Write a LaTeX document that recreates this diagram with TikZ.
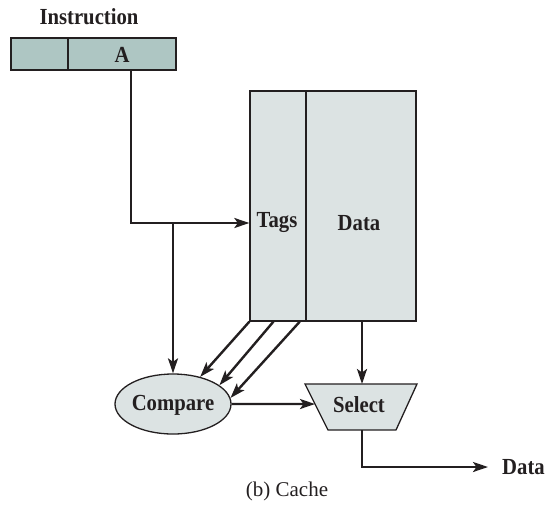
\documentclass[tikz,border=0pt]{standalone}
\usepackage{fontspec}
\setmainfont{Liberation Serif}
\newfontfamily\lblfont[FakeStretch=0.9]{Liberation Serif}
\usetikzlibrary{arrows.meta,shapes.geometric,calc}
\definecolor{ink}{HTML}{231F20}
\definecolor{instfill}{HTML}{AEC6C3}
\definecolor{boxfill}{HTML}{DCE3E3}
\tikzset{
  lbl/.style={font=\lblfont\fontsize{23}{26}\selectfont\bfseries, text=ink, inner sep=0pt},
  cellbox/.style={draw=ink, line width=1.3pt, fill=instfill, inner sep=0pt},
  membox/.style={draw=ink, line width=1.3pt, fill=boxfill, inner sep=0pt},
  wire/.style={draw=ink, line width=2.4pt, -{Stealth[length=15pt,width=10pt,inset=3.5pt]}},
}
\begin{document}
\begin{tikzpicture}[x=1pt,y=-1pt]
\useasboundingbox (0,0) rectangle (545,504);
% instruction
\node[lbl] (instr) at (89,17) {Instruction};
\node[cellbox, minimum width=57pt, minimum height=32pt] (cellL) at (39.5,54) {};
\node[cellbox, minimum width=108pt, minimum height=32pt] (cellA) at (122,54) {};
\node[lbl] (A) at (122,55) {A};
% cache memory
\node[membox, minimum width=56pt, minimum height=230pt] (tagbox) at (278,206) {};
\node[membox, minimum width=110pt, minimum height=230pt] (datbox) at (361,206) {};
\node[lbl] (tags) at (277,223) {Tags};
\node[lbl] (data) at (359,223) {Data};
% compare
\node[ellipse, draw=ink, line width=1.3pt, fill=boxfill, minimum width=116pt, minimum height=60pt, inner sep=0pt] (compare) at (173,404) {};
\node[lbl] (cmptext) at (173,405) {Compare};
% select trapezoid
\coordinate (st1) at (305,384);
\coordinate (st2) at (417,384);
\coordinate (sb2) at (396,430);
\coordinate (sb1) at (328,430);
\filldraw[draw=ink, fill=boxfill, line width=1.3pt] (st1) -- (st2) -- (sb2) -- (sb1) -- cycle;
\node[lbl] (select) at (359,405) {Select};
\coordinate (selL) at ($(st1)!0.435!(sb1)$);
\coordinate (selT) at (362,384);
\coordinate (selB) at (362,430);
% output
\node[lbl, anchor=west] (dataout) at (502,467) {Data};
\node[font=\fontsize{21}{24}\selectfont, text=ink, inner sep=0pt] (caption) at (287,491) {(b) Cache};
% connectors
\coordinate (aout) at (131,70);
\coordinate (junc) at (173,223);
\draw[wire] (aout) |- (tagbox.west |- junc);
\draw[wire] (junc) -- (compare.north);
\draw[wire] (tagbox.south west) -- (compare.45);
\draw[wire] ($(tagbox.south west)!0.42!(tagbox.south east)$) -- (compare.22);
\draw[wire] ($(tagbox.south west)!0.88!(tagbox.south east)$) -- (compare.6);
\draw[wire] (datbox.south -| selT) -- (selT);
\draw[wire] (compare.east) -- (selL);
\draw[wire] (selB) |- ([xshift=-14pt]dataout.west);
\end{tikzpicture}
\end{document}
